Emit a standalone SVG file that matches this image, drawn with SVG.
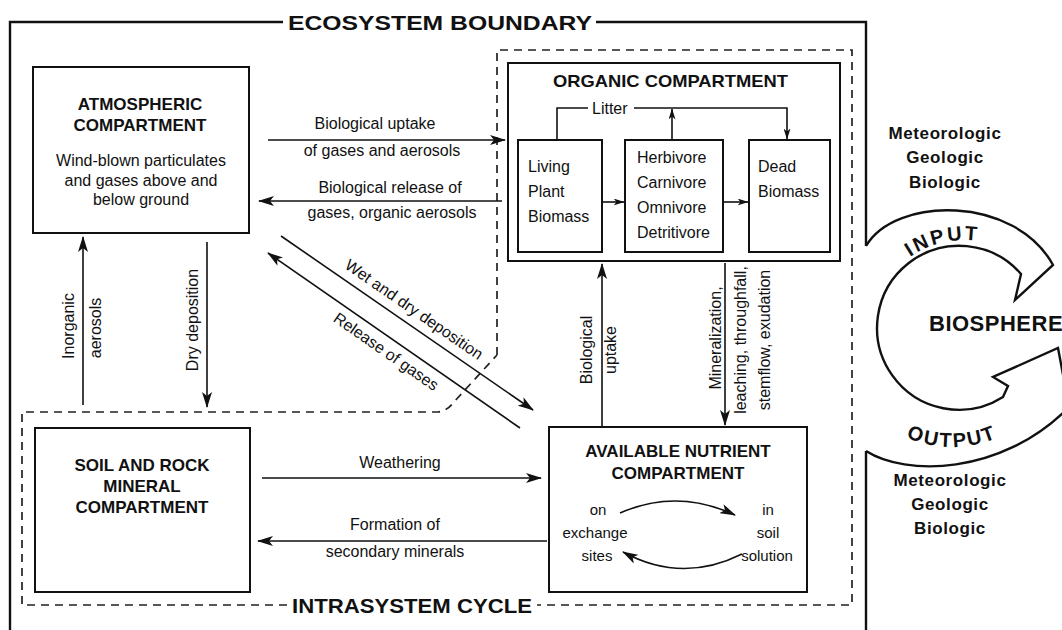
<svg xmlns="http://www.w3.org/2000/svg" width="1062" height="630" viewBox="0 0 1062 630">
<style>
text{font-family:"Liberation Sans",Arial,Helvetica,sans-serif;fill:#111}
.h{font-weight:bold;font-size:17px}
.t{font-size:16px}
.s{font-size:15px}
.c{text-anchor:middle}
.box{fill:none;stroke:#111;stroke-width:2}
.ln{fill:none;stroke:#111;stroke-width:1.6}
.dash{fill:none;stroke:#222;stroke-width:1.7;stroke-dasharray:8 6}
.bd{fill:none;stroke:#111;stroke-width:2.4}
</style>
<defs>
<marker id="ah" viewBox="0 0 16 10" markerWidth="16" markerHeight="10" refX="15" refY="5" orient="auto" markerUnits="userSpaceOnUse"><path d="M0,0 L16,5 L0,10 L4,5 z" fill="#111"/></marker>
<marker id="as" viewBox="0 0 11 7" markerWidth="11" markerHeight="7" refX="10.5" refY="3.5" orient="auto" markerUnits="userSpaceOnUse"><path d="M0,0 L11,3.5 L0,7 L3,3.5 z" fill="#111"/></marker>
<path id="inputArc" d="M902.6,262.7 A97,97 0 0 1 988.5,242.9"/>
<path id="outputArc" d="M884.9,425.8 A117,117 0 0 0 1019.1,425.8"/>
</defs>
<rect width="1062" height="630" fill="#fff"/>

<g id="ecosystem-boundary">
<path class="bd" d="M10,630 V22 H283 M596,22 H866 V246 M866,451 V630"/>
<text x="288" y="30" font-size="21" font-weight="bold" textLength="304" lengthAdjust="spacingAndGlyphs">ECOSYSTEM BOUNDARY</text>
</g>

<g id="intrasystem-cycle">
<path class="dash" d="M497,355 V50 H852 V605 H537 M287,605 H22 V412 H438 Q447,411 453,403 L497,355"/>
<text x="292" y="613" font-size="21" font-weight="bold" textLength="240" lengthAdjust="spacingAndGlyphs">INTRASYSTEM CYCLE</text>
</g>

<g id="atmospheric">
<rect x="33" y="67" width="216" height="166" class="box" stroke-width="2.5"/>
<text class="h c" x="140" y="110">ATMOSPHERIC</text>
<text class="h c" x="140" y="131">COMPARTMENT</text>
<text class="t c" x="141" y="166">Wind-blown particulates</text>
<text class="t c" x="141" y="186">and gases above and</text>
<text class="t c" x="141" y="205">below ground</text>
</g>

<g id="organic">
<rect x="508" y="63" width="332" height="198" class="box" stroke-width="2.5"/>
<text class="h" x="553" y="87" textLength="235" lengthAdjust="spacingAndGlyphs">ORGANIC COMPARTMENT</text>
<g id="living-plant">
<rect x="518" y="140" width="84" height="112" class="box"/>
<text class="t" x="528" y="172">Living</text>
<text class="t" x="528" y="197">Plant</text>
<text class="t" x="528" y="222">Biomass</text>
</g>
<g id="consumers">
<rect x="625" y="140" width="98" height="112" class="box"/>
<text class="t" x="637" y="163">Herbivore</text>
<text class="t" x="637" y="188">Carnivore</text>
<text class="t" x="637" y="213">Omnivore</text>
<text class="t" x="637" y="238">Detritivore</text>
</g>
<g id="dead-biomass">
<rect x="749" y="140" width="81" height="112" class="box"/>
<text class="t" x="758" y="172">Dead</text>
<text class="t" x="758" y="197">Biomass</text>
</g>
</g>

<g id="soil">
<rect x="35" y="428" width="215" height="164" class="box"/>
<text class="h c" x="142" y="471">SOIL AND ROCK</text>
<text class="h c" x="142" y="492">MINERAL</text>
<text class="h c" x="142" y="513">COMPARTMENT</text>
</g>

<g id="available">
<rect x="549" y="427" width="258" height="165" class="box" stroke-width="1.6"/>
<text class="h c" x="678" y="457">AVAILABLE NUTRIENT</text>
<text class="h c" x="678" y="479">COMPARTMENT</text>
<text class="s c" x="598" y="515">on</text>
<text class="s c" x="595" y="538">exchange</text>
<text class="s c" x="597" y="561">sites</text>
<text class="s c" x="768" y="515">in</text>
<text class="s c" x="768" y="538">soil</text>
<text class="s c" x="767" y="561">solution</text>
<path class="ln" stroke-width="2" d="M620,513 Q677,488 735,515" marker-end="url(#ah)"/>
<path class="ln" stroke-width="2" d="M742,554 Q682,584 623,552" marker-end="url(#ah)"/>
</g>

<g id="biosphere">
<path class="bd" d="M866,246 C895,196 1015,195 1053,265 L1015,300 L1021,274 A82,82 0 1 0 1003,397 L1008,386 L993,377 L1058,348 L1070,412 M866,451 C905,476 1000,476 1068,408"/>
<text font-size="20" font-weight="bold" letter-spacing="2.5"><textPath href="#inputArc" startOffset="50%" text-anchor="middle">INPUT</textPath></text>
<text font-size="20" font-weight="bold" letter-spacing="2"><textPath href="#outputArc" startOffset="50%" text-anchor="middle">OUTPUT</textPath></text>
<text x="929" y="331" font-size="22" font-weight="bold" letter-spacing="0.5">BIOSPHERE</text>
<text class="h c" x="945" y="139" letter-spacing="0.6">Meteorologic</text>
<text class="h c" x="945" y="163" letter-spacing="0.6">Geologic</text>
<text class="h c" x="945" y="188" letter-spacing="0.6">Biologic</text>
<text class="h c" x="950" y="486" letter-spacing="0.6">Meteorologic</text>
<text class="h c" x="950" y="510" letter-spacing="0.6">Geologic</text>
<text class="h c" x="950" y="534" letter-spacing="0.6">Biologic</text>
</g>

<g id="connectors">
<path class="ln" stroke-width="2" d="M268,140 H505" marker-end="url(#ah)"/>
<text class="t c" x="375" y="129">Biological uptake</text>
<text class="t c" x="382" y="156">of gases and aerosols</text>
<path class="ln" d="M502,201 H259" marker-end="url(#ah)"/>
<text class="t c" x="390" y="193">Biological release of</text>
<text class="t c" x="392" y="218">gases, organic aerosols</text>
<path class="ln" d="M83,405 V237" marker-end="url(#ah)"/>
<text class="t c" transform="translate(74,326) rotate(-90)">Inorganic</text>
<text class="t c" transform="translate(101,328) rotate(-90)">aerosols</text>
<path class="ln" stroke-width="2" d="M207,242 V407" marker-end="url(#ah)"/>
<text class="t c" transform="translate(198,320) rotate(-90)">Dry deposition</text>
<path class="ln" stroke-width="2" d="M281,236 L533,410" marker-end="url(#ah)"/>
<text class="t c" transform="translate(411,314) rotate(34.6)">Wet and dry deposition</text>
<path class="ln" stroke-width="2" d="M520,428 L268,253" marker-end="url(#ah)"/>
<text class="t c" transform="translate(383,356) rotate(34.9)">Release of gases</text>
<path class="ln" d="M262,478 H541" marker-end="url(#ah)"/>
<text class="t c" x="400" y="468">Weathering</text>
<path class="ln" stroke-width="2" d="M547,541 H258" marker-end="url(#ah)"/>
<text class="t c" x="395" y="530">Formation of</text>
<text class="t c" x="395" y="557">secondary minerals</text>
<path class="ln" d="M602,427 V264" marker-end="url(#ah)"/>
<text class="t c" transform="translate(592,350) rotate(-90)">Biological</text>
<text class="t c" transform="translate(616,350) rotate(-90)">uptake</text>
<path class="ln" stroke-width="2" d="M725,263 V425" marker-end="url(#ah)"/>
<text class="t c" transform="translate(721,338) rotate(-90)">Mineralization,</text>
<text class="t c" transform="translate(746,340) rotate(-90)">leaching, throughfall,</text>
<text class="t c" transform="translate(770,340) rotate(-90)">stemflow, exudation</text>
<path class="ln" d="M602,202 H624" marker-end="url(#as)"/>
<path class="ln" d="M723,202 H748" marker-end="url(#as)"/>
<path class="ln" stroke-width="2" d="M557,140 V108 H588 M634,108 H787 V139" marker-end="url(#as)"/>
<text class="t" x="592" y="114">Litter</text>
<path class="ln" stroke-width="2" d="M672,140 V109" marker-end="url(#as)"/>
</g>
</svg>
